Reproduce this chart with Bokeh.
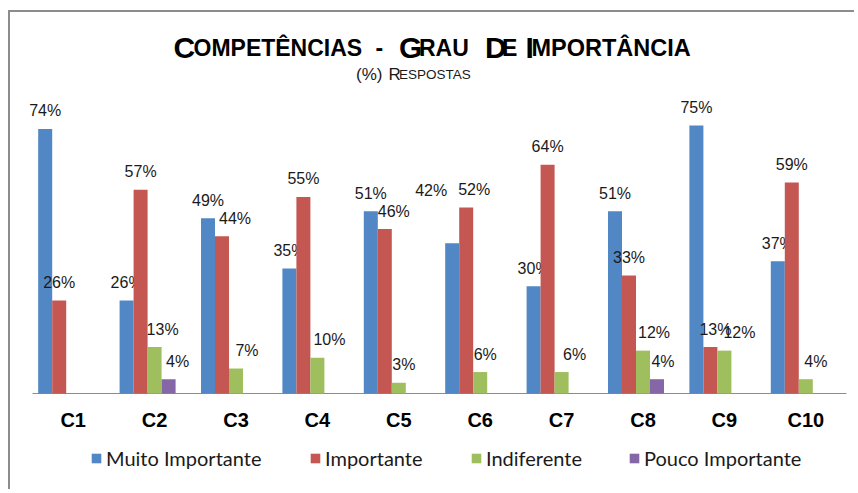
from bokeh.plotting import figure
from bokeh.models import (Range1d, ColumnDataSource, Label, Legend, LegendItem)
from bokeh.transform import dodge
from bokeh.core.properties import value
from bokeh.embed import file_html
from bokeh.resources import INLINE

# ---------------- data ----------------
categories = ["C1", "C2", "C3", "C4", "C5", "C6", "C7", "C8", "C9", "C10"]
muito_importante = [74, 26, 49, 35, 51, 42, 30, 51, 75, 37]
importante = [26, 57, 44, 55, 46, 52, 64, 33, 13, 59]
indiferente = [0, 13, 7, 10, 3, 6, 6, 12, 12, 4]
pouco_importante = [0, 4, 0, 0, 0, 0, 0, 4, 0, 0]
series_names = ["Muito Importante", "Importante", "Indiferente", "Pouco Importante"]

# ---------------- style ----------------
colors = ["#5087C4", "#C55753", "#9FBF5E", "#8567A8"]
# label nudges in pixels (style only: mimic hand-placed data labels)
label_dx = [
    [0, 0, 0, 0, 0, -21, 0, 0, 0, 0],
    [0, 0, 13, 0, 9, 8, 0, 0, 5, 0],
    [0, 8, 11, 12, 5, 5, 13, 11, 15, 10],
    [0, 9, 0, 0, 0, 0, 0, 6, 0, 0],
]
label_dy = [
    [0, 0, 0, 0, 0, 35, 0, 0, 0, 0],
    [0] * 10,
    [0] * 10,
    [0] * 10,
]
legend_x = [80, 299, 460, 618]

# ---------------- layout ----------------
W, H = 846, 479
plot_left, plot_right = 22, 836      # category axis extent (px in canvas)
baseline = 381                        # y of value 0 (px from canvas top)
px_per_pct = 3.575
px_per_cat = (plot_right - plot_left) / len(categories)

x_range = Range1d(-plot_left / px_per_cat, len(categories) + (W - plot_right) / px_per_cat)
y_range = Range1d(-(H - baseline) / px_per_pct, baseline / px_per_pct)

p = figure(width=W, height=H, x_range=x_range, y_range=y_range,
           output_backend="svg", toolbar_location=None,
           x_axis_location=None, y_axis_location=None,
           min_border=0, min_border_left=0, min_border_right=0,
           min_border_top=0, min_border_bottom=0)
p.styles = {"margin-left": "8px", "margin-top": "10px",
            "border-top": "2px solid #8c8c8c", "border-left": "2px solid #8c8c8c"}
p.xgrid.visible = False
p.ygrid.visible = False
p.outline_line_color = None
p.background_fill_color = "white"
p.border_fill_color = "white"

xpos = [i + 0.5 for i in range(len(categories))]

# category axis line
p.segment(x0=[0], y0=[0], x1=[len(categories)], y1=[0],
          line_color="#8c8c8c", line_width=1)
# category labels
p.text(x=xpos, y=[0] * len(categories), text=categories, y_offset=26,
       text_align="center", text_baseline="alphabetic",
       text_font=value("Liberation Sans"), text_font_style="bold",
       text_font_size="20px", text_color="#000000")

bar_w = 0.172
offsets = [-2 * bar_w, -bar_w, 0.0, bar_w]
all_series = [muito_importante, importante, indiferente, pouco_importante]

renderers = []
for i, (vals, name, col) in enumerate(zip(all_series, series_names, colors)):
    src = ColumnDataSource(dict(x=xpos, val=vals))
    r = p.vbar(x=dodge("x", offsets[i]), top="val", width=bar_w,
               source=src, fill_color=col, line_color=None)
    renderers.append(r)
    lx, lv, lt, ldx, ldy = [], [], [], [], []
    for j, v in enumerate(vals):
        if v > 0:
            lx.append(xpos[j])
            lv.append(v)
            lt.append(f"{v}%")
            ldx.append(label_dx[i][j])
            ldy.append(-18 - label_dy[i][j])
    lsrc = ColumnDataSource(dict(x=lx, val=lv, txt=lt, dx=ldx, dy=ldy))
    p.text(x=dodge("x", offsets[i]), y="val", text="txt",
           x_offset="dx", y_offset="dy", source=lsrc,
           text_align="center", text_baseline="alphabetic",
           text_font=value("Liberation Sans"), text_font_size="16px",
           text_color="#1a1a1a")

# legends (one per item to keep spacing)
for name, r, lx in zip(series_names, renderers, legend_x):
    lg = Legend(items=[LegendItem(label=name, renderers=[r])],
                location=(lx, 21), orientation="horizontal",
                padding=0, margin=0, border_line_color=None,
                background_fill_alpha=0, glyph_width=12, glyph_height=12,
                label_standoff=4, label_height=20,
                label_text_font="Lato", label_text_font_size="20px",
                label_text_color="#1a1a1a")
    p.add_layout(lg)

# title in small caps (pieces); screen units from canvas bottom-left
title_y, sub_y = 444, 417
title_parts = [("C", 163, "30px"), ("OMPETÊNCIAS", 183, "23px"), ("-", 365, "23px"),
               ("G", 388.5, "30px"), ("RAU", 408.5, "23px"), ("D", 474.5, "30px"),
               ("E", 491.5, "23px"), ("I", 515, "30px"), ("MPORTÂNCIA", 521, "23.5px")]
for txt, x, fs in title_parts:
    p.add_layout(Label(x=x, y=title_y, x_units="screen", y_units="screen", text=txt,
                       text_font="Liberation Sans", text_font_style="bold",
                       text_font_size=fs, text_color="#000000",
                       text_baseline="alphabetic", text_align="left"))
sub_parts = [("(%)", 345.5, "17px"), ("R", 378, "17px"), ("ESPOSTAS", 388.5, "13.5px")]
for txt, x, fs in sub_parts:
    p.add_layout(Label(x=x, y=sub_y, x_units="screen", y_units="screen", text=txt,
                       text_font="Liberation Sans", text_font_size=fs,
                       text_color="#1a1a1a",
                       text_baseline="alphabetic", text_align="left"))

open("out.html", "w").write(file_html(p, INLINE))
